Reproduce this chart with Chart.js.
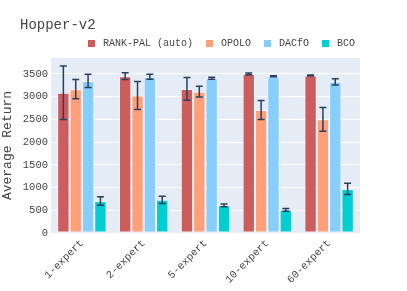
<!DOCTYPE html>
<html>
<head>
<meta charset="utf-8">
<script src="https://cdn.jsdelivr.net/npm/chart.js@4"></script>
<style>
  body { margin: 0; background: #fff; }
</style>
</head>
<body>
<canvas id="chart" width="407" height="291"></canvas>
<script>
const categories = ['1-expert', '2-expert', '5-expert', '10-expert', '60-expert'];
const seriesNames = ['RANK-PAL (auto)', 'OPOLO', 'DACfO', 'BCO'];
const rankPal = [3085, 3450, 3170, 3500, 3465];
const rankPalErr = [590, 75, 250, 20, 10];
const opolo = [3165, 3025, 3110, 2705, 2500];
const opoloErr = [210, 310, 120, 210, 260];
const dacfo = [3345, 3440, 3405, 3450, 3325];
const dacfoErr = [145, 55, 20, 10, 70];
const bco = [705, 730, 610, 510, 970];
const bcoErr = [95, 80, 30, 30, 125];
const yTicks = [0, 500, 1000, 1500, 2000, 2500, 3000, 3500];

const colors = ['#cd5c5c', '#ffa07a', '#87cefa', '#00ced1'];
const mono = "'Liberation Mono', 'DejaVu Sans Mono', monospace";
const textColor = '#444';

// error bars drawn over the bars, positioned with the chart's own scales
const errorBars = {
  id: 'errorBars',
  afterDatasetsDraw(chart) {
    const ctx = chart.ctx;
    const y = chart.scales.y;
    ctx.save();
    ctx.strokeStyle = '#2a3f5f';
    ctx.lineWidth = 1.5;
    chart.data.datasets.forEach((ds, i) => {
      const meta = chart.getDatasetMeta(i);
      meta.data.forEach((bar, j) => {
        const v = ds.data[j];
        const e = ds.errors[j];
        const top = y.getPixelForValue(v + e);
        const bot = y.getPixelForValue(v - e);
        const x = bar.x;
        ctx.beginPath();
        ctx.moveTo(x, top); ctx.lineTo(x, bot);
        ctx.moveTo(x - 3.5, top); ctx.lineTo(x + 3.5, top);
        ctx.moveTo(x - 3.5, bot); ctx.lineTo(x + 3.5, bot);
        ctx.stroke();
      });
    });
    ctx.restore();
  }
};

const plotBg = {
  id: 'plotBg',
  beforeDraw(chart) {
    const a = chart.chartArea;
    chart.ctx.save();
    chart.ctx.fillStyle = '#e5ecf6';
    chart.ctx.fillRect(a.left, a.top, a.right - a.left, a.bottom - a.top);
    chart.ctx.restore();
  }
};

// title top-left, one-row legend above the plot
const header = {
  id: 'header',
  afterDraw(chart) {
    const ctx = chart.ctx;
    ctx.save();
    ctx.fillStyle = textColor;
    ctx.textBaseline = 'middle';
    ctx.font = `14px ${mono}`;
    ctx.fillText('Hopper-v2', 20, 25.5);

    ctx.font = `10px ${mono}`;
    let x = 88;
    chart.data.datasets.forEach((ds) => {
      ctx.fillStyle = ds.backgroundColor;
      ctx.fillRect(x, 40, 7, 7);
      ctx.fillStyle = textColor;
      ctx.fillText(ds.label, x + 15, 43.5);
      x += 15 + ctx.measureText(ds.label).width + 13;
    });
    ctx.restore();
  }
};

const values = [rankPal, opolo, dacfo, bco];
const errs = [rankPalErr, opoloErr, dacfoErr, bcoErr];

new Chart(document.getElementById('chart'), {
  type: 'bar',
  data: {
    labels: categories,
    datasets: seriesNames.map((name, i) => ({
      label: name,
      data: values[i],
      errors: errs[i],
      backgroundColor: colors[i],
      borderColor: 'rgba(255,255,255,0.6)',
      borderWidth: 1,
      borderSkipped: false,
      categoryPercentage: 0.8,
      barPercentage: 1.0,
    })),
  },
  options: {
    responsive: false,
    animation: false,
    layout: { padding: { left: 0, right: 47, top: 58, bottom: 0 } },
    plugins: {
      legend: { display: false },
      tooltip: { enabled: false },
    },
    scales: {
      x: {
        grid: { display: false, drawTicks: false },
        border: { display: false },
        afterFit: (axis) => { axis.height = 58; },
        ticks: {
          color: textColor,
          font: { family: mono, size: 10.5 },
          minRotation: 45,
          maxRotation: 45,
          padding: 4,
        },
      },
      y: {
        min: 0,
        max: 3850,
        afterBuildTicks: (axis) => { axis.ticks = yTicks.map((v) => ({ value: v })); },
        afterFit: (axis) => { axis.width = 51; },
        grid: { color: '#ffffff', lineWidth: 1, drawTicks: false },
        border: { display: false },
        ticks: {
          color: textColor,
          font: { family: mono, size: 10.5 },
          padding: 3,
          callback: (v) => String(v),
        },
        title: {
          display: true,
          text: 'Average Return',
          color: textColor,
          font: { family: mono, size: 13 },
          padding: { top: 0, bottom: 0 },
        },
      },
    },
  },
  plugins: [plotBg, errorBars, header],
});
</script>
</body>
</html>
